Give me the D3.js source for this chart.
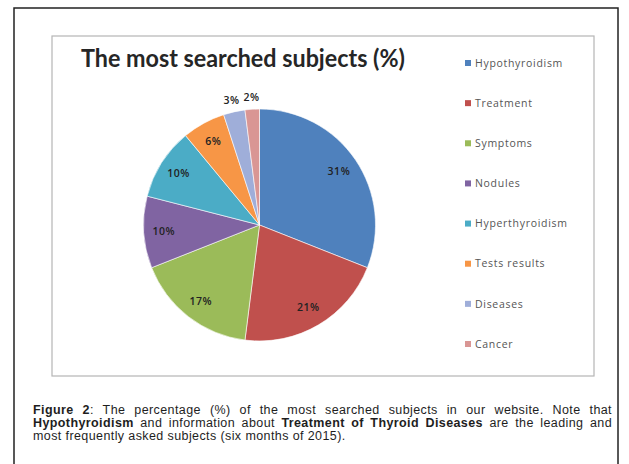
<!DOCTYPE html>
<html><head><meta charset="utf-8">
<script src="https://cdn.jsdelivr.net/npm/d3@7"></script>
<style>body{margin:0;background:#fff}svg{display:block}</style>
</head><body>
<svg id="c" width="629" height="464"></svg>
<script>
const categories = ["Hypothyroidism","Treatment","Symptoms","Nodules","Hyperthyroidism","Tests results","Diseases","Cancer"];
const values = [31,21,17,10,10,6,3,2];
const colors = ["#4F81BD","#C0504D","#9BBB59","#8064A2","#4BACC6","#F79646","#9FAED9","#D99694"];
const titleText = "The most searched subjects (%)";
const captionLines = [
  [["b","Figure 2"],["n",": The percentage (%) of the most searched subjects in our website. Note that"]],
  [["b","Hypothyroidism"],["n"," and information about "],["b","Treatment of Thyroid Diseases"],["n"," are the leading and"]],
  [["n","most frequently asked subjects (six months of 2015)."]]
];

const svg = d3.select("#c");
svg.append("rect").attr("x",14).attr("y",8).attr("width",604).attr("height",470)
  .attr("fill","none").attr("stroke","#222").attr("stroke-width",1.5);
svg.append("rect").attr("x",52).attr("y",36).attr("width",542).attr("height",340)
  .attr("fill","#fff").attr("stroke","#b5b5b5").attr("stroke-width",1.2);

svg.append("text").attr("x",81).attr("y",67).text(titleText)
  .attr("font-family","Lato, 'Open Sans', sans-serif").attr("font-weight","bold")
  .attr("font-size",24).attr("fill","#262626")
  .attr("textLength",324).attr("lengthAdjust","spacingAndGlyphs");

const cx = 259.5, cy = 225, R = 116;
const pie = d3.pie().sort(null).value(d=>d)(values);
const arc = d3.arc().innerRadius(0).outerRadius(R);
const g = svg.append("g").attr("transform",`translate(${cx},${cy})`);
g.selectAll("path").data(pie).join("path")
  .attr("d",arc).attr("fill",(d,i)=>colors[i]).attr("stroke","#fff").attr("stroke-width",0.6);

const inArc = d3.arc().innerRadius(96).outerRadius(96);
const outArc = d3.arc().innerRadius(R+12).outerRadius(R+12);
g.selectAll("text.lbl").data(pie).join("text").attr("class","lbl")
  .attr("transform",d=>{const p=(d.data>=5?inArc:outArc).centroid(d);return `translate(${p[0]},${p[1]})`;})
  .attr("text-anchor","middle").attr("dy","0.35em")
  .attr("font-family","'Open Sans', sans-serif").attr("font-size",10.5).attr("font-weight",600)
  .attr("letter-spacing",0.5).attr("fill","#222").text(d=>d.data+"%");

const ly = d3.scalePoint().domain(categories).range([63,344]);
const leg = svg.append("g").selectAll("g").data(categories).join("g")
  .attr("transform",d=>`translate(465,${ly(d)})`);
leg.append("rect").attr("x",0).attr("y",-3).attr("width",6).attr("height",6).attr("fill",(d,i)=>colors[i]);
leg.append("text").attr("x",10).attr("dy","0.35em").text(d=>d)
  .attr("font-family","'Open Sans', sans-serif").attr("font-size",10.5).attr("letter-spacing",0.7)
  .attr("fill","#555");

const capW = 579, capX = 33;
captionLines.forEach((line,i)=>{
  const t = svg.append("text").attr("x",capX).attr("y",414+i*13)
    .attr("font-family","'Liberation Sans', Arial, sans-serif").attr("font-size",12.5)
    .attr("letter-spacing",0.4).attr("fill","#1e1e1e");
  line.forEach(([w,s])=>t.append("tspan").attr("font-weight",w==="b"?"bold":"normal").text(s));
  if(i<captionLines.length-1){
    const L = t.node().getComputedTextLength();
    const n = line.map(x=>x[1]).join("").split(" ").length-1;
    t.attr("word-spacing",Math.max(0,(capW-L)/n));
  }
});
</script>
</body></html>
